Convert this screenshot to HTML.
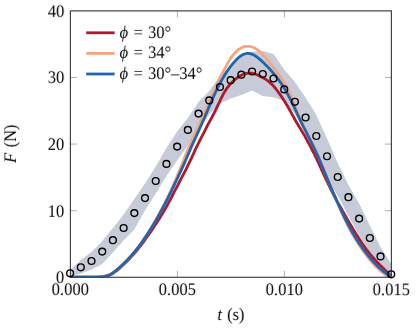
<!DOCTYPE html>
<html><head><meta charset="utf-8"><title>plot</title>
<style>html,body{margin:0;padding:0;background:#fff;}svg{display:block;}
body{font-family:"Liberation Serif",serif;}</style></head>
<body>
<svg width="416" height="328" viewBox="0 0 416 328">
<rect width="416" height="328" fill="#fff"/>
<defs><clipPath id="cp"><rect x="70.4" y="10.9" width="321.0" height="266.40000000000003"/></clipPath></defs>
<path d="M70.10,270.00 L80.80,260.00 L91.51,252.00 L102.22,241.00 L112.92,228.00 L123.62,214.50 L134.33,199.00 L145.03,183.50 L155.74,166.50 L166.44,148.00 L177.15,131.50 L187.85,118.00 L198.56,102.00 L209.26,91.00 L219.97,76.00 L230.67,66.00 L241.38,56.50 L252.09,51.50 L262.79,51.00 L273.50,54.00 L284.20,69.50 L294.90,82.00 L305.61,97.50 L316.31,115.00 L327.02,138.50 L337.73,163.00 L348.43,185.00 L359.13,203.50 L369.84,225.50 L380.54,247.00 L391.25,264.00 L391.25,275.50 L380.54,266.00 L369.84,252.00 L359.13,235.50 L348.43,216.00 L337.73,195.50 L327.02,179.00 L316.31,155.00 L305.61,132.00 L294.90,114.00 L284.20,101.00 L273.50,97.30 L262.79,96.00 L252.09,90.50 L241.38,95.00 L230.67,98.50 L219.97,103.50 L209.26,114.50 L198.56,129.00 L187.85,145.50 L177.15,160.50 L166.44,176.00 L155.74,193.50 L145.03,210.50 L134.33,229.50 L123.62,240.50 L112.92,252.50 L102.22,264.00 L91.51,269.50 L80.80,273.50 L70.10,276.50Z" fill="#c7cbd8" stroke="none" clip-path="url(#cp)"/>
<path d="M177.40,277.3 v-6.5 M177.40,10.9 v6.5 M284.40,277.3 v-6.5 M284.40,10.9 v6.5 M70.4,210.70 h6.5 M391.4,210.70 h-6.5 M70.4,144.10 h6.5 M391.4,144.10 h-6.5 M70.4,77.50 h6.5 M391.4,77.50 h-6.5" stroke="#8c8c8c" stroke-width="0.7" fill="none"/>
<g clip-path="url(#cp)">
<path d="M70.50,277.20 L100.86,277.00 L108.07,275.73 L111.06,274.45 L113.21,273.18 L115.01,271.91 L116.65,270.63 L118.20,269.36 L119.70,268.09 L121.14,266.81 L122.54,265.54 L123.91,264.27 L125.23,262.99 L126.53,261.72 L127.79,260.45 L129.02,259.17 L130.22,257.90 L131.39,256.63 L132.54,255.35 L133.67,254.08 L134.78,252.81 L135.87,251.53 L136.94,250.26 L138.00,248.99 L139.02,247.71 L140.03,246.44 L141.01,245.17 L141.98,243.89 L142.93,242.62 L143.86,241.35 L144.79,240.07 L145.70,238.80 L146.61,237.53 L147.51,236.25 L148.41,234.98 L149.30,233.71 L150.19,232.43 L151.07,231.16 L151.94,229.88 L152.81,228.61 L153.66,227.34 L154.51,226.06 L155.35,224.79 L156.19,223.52 L157.01,222.24 L157.82,220.97 L158.63,219.70 L159.43,218.42 L160.23,217.15 L161.02,215.88 L161.80,214.60 L162.57,213.33 L163.33,212.06 L164.08,210.78 L164.83,209.51 L165.56,208.24 L166.29,206.96 L167.01,205.69 L167.71,204.42 L168.40,203.14 L169.08,201.87 L169.76,200.60 L170.43,199.32 L171.09,198.05 L171.75,196.78 L172.40,195.50 L173.06,194.23 L173.72,192.96 L174.38,191.68 L175.04,190.41 L175.70,189.14 L176.37,187.86 L177.04,186.59 L177.70,185.32 L178.37,184.04 L179.04,182.77 L179.70,181.50 L180.37,180.22 L181.03,178.95 L181.69,177.68 L182.35,176.40 L183.01,175.13 L183.67,173.86 L184.33,172.58 L184.99,171.31 L185.64,170.04 L186.29,168.76 L186.93,167.49 L187.56,166.22 L188.19,164.94 L188.80,163.67 L189.42,162.40 L190.02,161.12 L190.62,159.85 L191.22,158.58 L191.81,157.30 L192.40,156.03 L192.98,154.76 L193.57,153.48 L194.15,152.21 L194.73,150.94 L195.31,149.66 L195.91,148.39 L196.51,147.12 L197.13,145.84 L197.75,144.57 L198.39,143.29 L199.03,142.02 L199.68,140.75 L200.33,139.47 L200.99,138.20 L201.64,136.93 L202.30,135.65 L202.96,134.38 L203.61,133.11 L204.26,131.83 L204.90,130.56 L205.54,129.29 L206.18,128.01 L206.83,126.74 L207.48,125.47 L208.15,124.19 L208.83,122.92 L209.52,121.65 L210.22,120.37 L210.92,119.10 L211.62,117.83 L212.31,116.55 L213.00,115.28 L213.67,114.01 L214.33,112.73 L214.97,111.46 L215.59,110.19 L216.19,108.91 L216.78,107.64 L217.38,106.37 L217.98,105.09 L218.58,103.82 L219.18,102.55 L219.77,101.27 L220.36,100.00 L221.09,98.46 L221.82,96.98 L222.56,95.56 L223.29,94.20 L224.02,92.89 L224.75,91.65 L225.49,90.47 L226.22,89.34 L226.95,88.27 L227.68,87.25 L228.42,86.29 L229.15,85.38 L229.88,84.51 L230.61,83.69 L231.35,82.91 L232.08,82.17 L232.81,81.46 L233.54,80.79 L234.28,80.14 L235.01,79.51 L235.74,78.92 L236.47,78.35 L237.21,77.80 L237.94,77.29 L238.67,76.81 L239.40,76.35 L240.14,75.92 L240.87,75.53 L241.60,75.16 L242.33,74.82 L243.06,74.51 L243.80,74.23 L244.53,73.98 L245.26,73.76 L245.99,73.56 L246.73,73.39 L247.46,73.25 L248.19,73.15 L248.92,73.07 L249.66,73.04 L250.39,73.04 L251.12,73.09 L251.85,73.18 L252.59,73.31 L253.32,73.49 L254.05,73.70 L254.78,73.93 L255.52,74.20 L256.25,74.49 L256.98,74.80 L257.71,75.12 L258.45,75.46 L259.18,75.80 L259.91,76.15 L260.64,76.51 L261.38,76.88 L262.11,77.26 L262.84,77.65 L263.57,78.06 L264.31,78.48 L265.04,78.92 L265.77,79.39 L266.50,79.87 L267.24,80.38 L267.97,80.91 L268.70,81.48 L269.43,82.07 L270.17,82.70 L270.90,83.37 L271.63,84.07 L272.36,84.81 L273.10,85.59 L273.83,86.40 L274.56,87.25 L275.29,88.14 L276.03,89.06 L276.76,90.01 L277.49,90.99 L278.22,92.00 L279.19,93.32 L280.13,94.65 L281.06,95.97 L281.95,97.29 L282.83,98.62 L283.69,99.94 L284.53,101.27 L285.35,102.59 L286.16,103.91 L286.95,105.24 L287.72,106.56 L288.49,107.88 L289.24,109.21 L289.98,110.53 L290.71,111.86 L291.44,113.18 L292.17,114.50 L292.89,115.83 L293.62,117.15 L294.34,118.47 L295.08,119.80 L295.82,121.12 L296.59,122.45 L297.37,123.77 L298.16,125.09 L298.97,126.42 L299.78,127.74 L300.59,129.06 L301.39,130.39 L302.19,131.71 L302.98,133.04 L303.76,134.36 L304.51,135.68 L305.26,137.01 L305.99,138.33 L306.70,139.65 L307.41,140.98 L308.12,142.30 L308.82,143.63 L309.53,144.95 L310.24,146.27 L310.94,147.60 L311.64,148.92 L312.33,150.24 L313.02,151.57 L313.70,152.89 L314.37,154.22 L315.03,155.54 L315.67,156.86 L316.31,158.19 L316.93,159.51 L317.54,160.83 L318.14,162.16 L318.75,163.48 L319.35,164.81 L319.95,166.13 L320.55,167.45 L321.16,168.78 L321.76,170.10 L322.37,171.42 L322.98,172.75 L323.59,174.07 L324.21,175.40 L324.82,176.72 L325.45,178.04 L326.07,179.37 L326.70,180.69 L327.33,182.01 L327.97,183.34 L328.61,184.66 L329.25,185.99 L329.90,187.31 L330.55,188.63 L331.21,189.96 L331.87,191.28 L332.54,192.60 L333.22,193.93 L333.90,195.25 L334.59,196.58 L335.29,197.90 L335.99,199.22 L336.71,200.55 L337.45,201.87 L338.20,203.19 L338.96,204.52 L339.72,205.84 L340.48,207.17 L341.22,208.49 L341.96,209.81 L342.71,211.14 L343.45,212.46 L344.20,213.78 L344.95,215.11 L345.70,216.43 L346.46,217.76 L347.22,219.08 L347.98,220.40 L348.74,221.73 L349.51,223.05 L350.29,224.37 L351.06,225.70 L351.84,227.02 L352.63,228.35 L353.42,229.67 L354.23,230.99 L355.03,232.32 L355.86,233.64 L356.69,234.96 L357.54,236.29 L358.40,237.61 L359.26,238.94 L360.13,240.26 L361.01,241.58 L361.89,242.91 L362.79,244.23 L363.70,245.55 L364.63,246.88 L365.57,248.20 L366.53,249.53 L367.52,250.85 L368.52,252.17 L369.56,253.50 L370.63,254.82 L371.73,256.14 L372.86,257.47 L374.02,258.79 L375.21,260.12 L376.43,261.44 L377.68,262.76 L378.98,264.09 L380.32,265.41 L381.69,266.73 L383.08,268.06 L384.43,269.38 L385.78,270.71 L387.16,272.03 L388.45,273.35 L389.60,274.68 L390.72,276.00 L391.50,277.20" fill="none" stroke="#b2182b" stroke-width="2.8" stroke-linejoin="round"/>
<path d="M70.50,277.20 L100.26,277.00 L107.99,275.51 L111.06,274.01 L113.35,272.52 L115.32,271.02 L117.14,269.53 L118.89,268.03 L120.57,266.54 L122.19,265.04 L123.75,263.55 L125.26,262.05 L126.72,260.56 L128.14,259.06 L129.51,257.57 L130.85,256.08 L132.15,254.58 L133.42,253.09 L134.67,251.59 L135.88,250.10 L137.07,248.60 L138.22,247.11 L139.33,245.61 L140.42,244.12 L141.48,242.62 L142.51,241.13 L143.53,239.63 L144.53,238.14 L145.53,236.65 L146.51,235.15 L147.48,233.66 L148.43,232.16 L149.37,230.67 L150.30,229.17 L151.21,227.68 L152.12,226.18 L153.01,224.69 L153.89,223.19 L154.76,221.70 L155.62,220.21 L156.47,218.71 L157.31,217.22 L158.13,215.72 L158.95,214.23 L159.75,212.73 L160.55,211.24 L161.34,209.74 L162.13,208.25 L162.91,206.75 L163.68,205.26 L164.44,203.76 L165.20,202.27 L165.94,200.78 L166.68,199.28 L167.41,197.79 L168.14,196.29 L168.86,194.80 L169.58,193.30 L170.29,191.81 L171.00,190.31 L171.71,188.82 L172.40,187.32 L173.07,185.83 L173.73,184.33 L174.38,182.84 L175.02,181.35 L175.65,179.85 L176.27,178.36 L176.89,176.86 L177.51,175.37 L178.13,173.87 L178.75,172.38 L179.37,170.88 L180.00,169.39 L180.61,167.89 L181.21,166.40 L181.80,164.90 L182.38,163.41 L182.95,161.92 L183.52,160.42 L184.09,158.93 L184.66,157.43 L185.24,155.94 L185.82,154.44 L186.41,152.95 L187.01,151.45 L187.62,149.96 L188.26,148.46 L188.90,146.97 L189.57,145.47 L190.24,143.98 L190.92,142.49 L191.61,140.99 L192.30,139.50 L193.00,138.00 L193.69,136.51 L194.38,135.01 L195.06,133.52 L195.74,132.02 L196.41,130.53 L197.07,129.03 L197.74,127.54 L198.43,126.04 L199.12,124.55 L199.82,123.06 L200.53,121.56 L201.23,120.07 L201.94,118.57 L202.64,117.08 L203.32,115.58 L204.00,114.09 L204.67,112.59 L205.31,111.10 L205.94,109.60 L206.56,108.11 L207.18,106.62 L207.81,105.12 L208.44,103.63 L209.07,102.13 L209.71,100.64 L210.35,99.14 L210.99,97.65 L211.64,96.15 L212.29,94.66 L212.95,93.16 L213.62,91.67 L214.27,90.17 L214.93,88.68 L215.60,87.19 L216.28,85.69 L216.96,84.20 L217.64,82.70 L218.32,81.21 L219.01,79.71 L219.73,78.22 L220.46,76.72 L221.23,75.23 L222.01,73.73 L222.83,72.24 L223.67,70.74 L224.54,69.25 L225.26,67.94 L225.99,66.59 L226.71,65.21 L227.43,63.84 L228.15,62.48 L228.87,61.17 L229.60,59.91 L230.32,58.74 L231.04,57.66 L231.76,56.66 L232.49,55.73 L233.21,54.87 L233.93,54.07 L234.65,53.31 L235.38,52.58 L236.10,51.89 L236.82,51.22 L237.54,50.58 L238.26,49.96 L238.99,49.38 L239.71,48.84 L240.43,48.35 L241.15,47.91 L241.88,47.53 L242.60,47.20 L243.32,46.93 L244.04,46.71 L244.77,46.54 L245.49,46.42 L246.21,46.35 L246.93,46.31 L247.65,46.30 L248.38,46.32 L249.10,46.37 L249.82,46.46 L250.54,46.59 L251.27,46.75 L251.99,46.97 L252.71,47.22 L253.43,47.52 L254.16,47.86 L254.88,48.24 L255.60,48.65 L256.32,49.10 L257.04,49.58 L257.77,50.09 L258.49,50.63 L259.21,51.21 L259.93,51.81 L260.66,52.44 L261.38,53.10 L262.10,53.80 L262.82,54.52 L263.55,55.28 L264.27,56.07 L264.99,56.88 L265.71,57.72 L266.43,58.59 L267.16,59.46 L267.88,60.35 L268.60,61.25 L269.32,62.15 L270.05,63.06 L270.77,63.96 L271.49,64.86 L272.21,65.76 L272.93,66.68 L273.66,67.60 L274.38,68.55 L275.10,69.51 L275.82,70.50 L276.55,71.52 L277.27,72.57 L277.99,73.64 L278.71,74.71 L279.44,75.80 L280.16,76.88 L280.88,77.95 L281.60,79.00 L282.64,80.42 L283.63,81.84 L284.57,83.26 L285.47,84.69 L286.33,86.11 L287.15,87.53 L287.94,88.95 L288.69,90.37 L289.40,91.79 L290.08,93.22 L290.68,94.64 L291.21,96.06 L291.71,97.48 L292.21,98.90 L292.73,100.32 L293.31,101.75 L293.88,103.17 L294.45,104.59 L295.01,106.01 L295.58,107.43 L296.15,108.85 L296.73,110.27 L297.31,111.70 L297.91,113.12 L298.51,114.54 L299.12,115.96 L299.74,117.38 L300.36,118.80 L300.99,120.23 L301.63,121.65 L302.29,123.07 L302.97,124.49 L303.66,125.91 L304.35,127.33 L305.06,128.76 L305.77,130.18 L306.48,131.60 L307.20,133.02 L307.91,134.44 L308.61,135.86 L309.31,137.28 L310.00,138.71 L310.67,140.13 L311.35,141.55 L312.02,142.97 L312.71,144.39 L313.39,145.81 L314.07,147.24 L314.75,148.66 L315.43,150.08 L316.10,151.50 L316.76,152.92 L317.41,154.34 L318.05,155.77 L318.67,157.19 L319.28,158.61 L319.87,160.03 L320.45,161.45 L321.02,162.87 L321.60,164.29 L322.18,165.72 L322.75,167.14 L323.33,168.56 L323.91,169.98 L324.48,171.40 L325.06,172.82 L325.64,174.25 L326.22,175.67 L326.80,177.09 L327.39,178.51 L327.97,179.93 L328.56,181.35 L329.14,182.78 L329.73,184.20 L330.33,185.62 L330.92,187.04 L331.51,188.46 L332.11,189.88 L332.71,191.31 L333.31,192.73 L333.91,194.15 L334.52,195.57 L335.12,196.99 L335.73,198.41 L336.34,199.83 L336.94,201.26 L337.52,202.68 L338.09,204.10 L338.65,205.52 L339.22,206.94 L339.79,208.36 L340.39,209.79 L341.00,211.21 L341.61,212.63 L342.24,214.05 L342.88,215.47 L343.52,216.89 L344.18,218.32 L344.85,219.74 L345.53,221.16 L346.22,222.58 L346.92,224.00 L347.64,225.42 L348.37,226.84 L349.12,228.27 L349.88,229.69 L350.65,231.11 L351.44,232.53 L352.25,233.95 L353.07,235.37 L353.91,236.80 L354.76,238.22 L355.64,239.64 L356.53,241.06 L357.43,242.48 L358.35,243.90 L359.28,245.33 L360.22,246.75 L361.19,248.17 L362.16,249.59 L363.16,251.01 L364.18,252.43 L365.22,253.85 L366.28,255.28 L367.37,256.70 L368.48,258.12 L369.63,259.54 L370.82,260.96 L372.04,262.38 L373.32,263.81 L374.64,265.23 L376.02,266.65 L377.46,268.07 L378.96,269.49 L380.53,270.91 L382.19,272.34 L383.95,273.76 L385.82,275.18 L387.80,276.60 L391.50,277.20" fill="none" stroke="#f4a582" stroke-width="2.8" stroke-linejoin="round"/>
<path d="M70.50,277.20 L98.00,277.20 L99.09,277.10 L100.19,277.01 L101.31,276.90 L102.42,276.78 L103.54,276.62 L104.64,276.44 L105.73,276.20 L106.80,275.92 L107.83,275.57 L108.84,275.16 L109.82,274.70 L110.78,274.18 L111.71,273.63 L112.62,273.03 L113.51,272.40 L114.39,271.75 L115.26,271.07 L116.12,270.38 L116.96,269.68 L117.80,268.97 L118.64,268.25 L119.47,267.53 L120.28,266.80 L121.10,266.06 L121.90,265.31 L122.70,264.56 L123.50,263.80 L124.29,263.03 L125.07,262.26 L125.84,261.48 L126.61,260.69 L127.37,259.90 L128.13,259.10 L128.88,258.29 L129.63,257.48 L130.37,256.66 L131.10,255.84 L131.83,255.02 L132.55,254.18 L133.27,253.35 L133.99,252.51 L134.70,251.66 L135.40,250.81 L136.10,249.95 L136.79,249.09 L137.47,248.23 L138.15,247.36 L138.81,246.49 L139.47,245.62 L140.12,244.74 L140.76,243.86 L141.40,242.97 L142.03,242.09 L142.65,241.20 L143.27,240.30 L143.89,239.41 L144.50,238.51 L145.11,237.61 L145.72,236.71 L146.32,235.80 L146.93,234.90 L147.52,233.99 L148.12,233.08 L148.71,232.17 L149.29,231.26 L149.87,230.34 L150.45,229.43 L151.02,228.51 L151.59,227.59 L152.16,226.67 L152.72,225.74 L153.28,224.82 L153.84,223.89 L154.39,222.97 L154.95,222.04 L155.49,221.11 L156.04,220.17 L156.58,219.24 L157.11,218.30 L157.65,217.37 L158.18,216.43 L158.70,215.49 L159.23,214.55 L159.75,213.60 L160.27,212.66 L160.78,211.71 L161.29,210.77 L161.81,209.82 L162.31,208.87 L162.82,207.92 L163.33,206.96 L163.83,206.01 L164.33,205.05 L164.83,204.09 L165.32,203.14 L165.81,202.18 L166.30,201.21 L166.79,200.25 L167.27,199.29 L167.75,198.32 L168.23,197.36 L168.71,196.39 L169.19,195.42 L169.67,194.45 L170.15,193.48 L170.62,192.51 L171.10,191.53 L171.58,190.56 L172.06,189.58 L172.53,188.60 L173.01,187.62 L173.48,186.64 L173.95,185.66 L174.42,184.68 L174.88,183.70 L175.35,182.71 L175.81,181.73 L176.27,180.74 L176.73,179.76 L177.19,178.77 L177.65,177.78 L178.11,176.79 L178.57,175.80 L179.02,174.80 L179.48,173.81 L179.94,172.82 L180.40,171.82 L180.86,170.82 L181.32,169.83 L181.78,168.83 L182.24,167.83 L182.69,166.83 L183.15,165.83 L183.60,164.83 L184.05,163.82 L184.50,162.82 L184.94,161.81 L185.38,160.81 L185.82,159.80 L186.26,158.80 L186.70,157.79 L187.14,156.78 L187.57,155.77 L188.00,154.76 L188.43,153.75 L188.86,152.74 L189.29,151.73 L189.71,150.71 L190.13,149.70 L190.56,148.69 L191.00,147.67 L191.44,146.65 L191.89,145.64 L192.35,144.62 L192.81,143.60 L193.27,142.59 L193.74,141.57 L194.21,140.55 L194.69,139.53 L195.16,138.51 L195.64,137.49 L196.11,136.46 L196.58,135.44 L197.05,134.42 L197.52,133.40 L197.98,132.37 L198.44,131.35 L198.90,130.32 L199.35,129.30 L199.80,128.27 L200.25,127.25 L200.71,126.22 L201.16,125.19 L201.62,124.17 L202.08,123.14 L202.53,122.11 L202.99,121.08 L203.44,120.06 L203.89,119.03 L204.35,118.00 L204.80,116.97 L205.24,115.95 L205.69,114.92 L206.13,113.89 L206.57,112.87 L207.00,111.84 L207.43,110.81 L207.86,109.79 L208.29,108.76 L208.72,107.74 L209.15,106.72 L209.59,105.69 L210.02,104.67 L210.46,103.65 L210.90,102.63 L211.35,101.61 L211.80,100.60 L212.24,99.58 L212.70,98.57 L213.15,97.55 L213.61,96.54 L214.06,95.53 L214.53,94.52 L214.99,93.51 L215.46,92.50 L215.93,91.50 L216.40,90.49 L216.87,89.49 L217.35,88.49 L217.84,87.49 L218.33,86.50 L218.84,85.50 L219.35,84.51 L219.86,83.52 L220.39,82.53 L220.92,81.55 L221.46,80.56 L222.01,79.58 L222.57,78.60 L223.14,77.63 L223.72,76.66 L224.30,75.69 L224.90,74.72 L225.51,73.76 L226.13,72.80 L226.75,71.85 L227.39,70.90 L228.04,69.96 L228.70,69.03 L229.37,68.10 L230.05,67.18 L230.75,66.26 L231.45,65.36 L232.17,64.46 L232.90,63.57 L233.65,62.69 L234.40,61.82 L235.17,60.96 L235.95,60.13 L236.75,59.32 L237.55,58.55 L238.37,57.81 L239.20,57.10 L240.05,56.45 L240.90,55.84 L241.77,55.29 L242.65,54.81 L243.54,54.38 L244.45,54.03 L245.36,53.75 L246.29,53.55 L247.23,53.44 L248.17,53.42 L249.11,53.49 L250.05,53.64 L250.98,53.88 L251.92,54.20 L252.85,54.58 L253.78,55.04 L254.71,55.55 L255.63,56.11 L256.54,56.73 L257.45,57.39 L258.36,58.08 L259.25,58.81 L260.14,59.57 L261.02,60.34 L261.89,61.14 L262.75,61.94 L263.60,62.75 L264.43,63.56 L265.26,64.38 L266.08,65.20 L266.89,66.02 L267.68,66.85 L268.47,67.68 L269.25,68.52 L270.01,69.35 L270.77,70.19 L271.52,71.04 L272.26,71.89 L272.99,72.74 L273.71,73.59 L274.42,74.45 L275.12,75.32 L275.82,76.18 L276.50,77.05 L277.18,77.92 L277.85,78.80 L278.51,79.68 L279.16,80.56 L279.80,81.44 L280.43,82.33 L281.04,83.22 L281.64,84.11 L282.23,85.01 L282.81,85.91 L283.37,86.82 L283.93,87.72 L284.48,88.63 L285.02,89.54 L285.55,90.46 L286.07,91.38 L286.59,92.30 L287.10,93.22 L287.61,94.15 L288.11,95.08 L288.60,96.01 L289.10,96.95 L289.59,97.88 L290.08,98.82 L290.57,99.77 L291.06,100.71 L291.54,101.66 L292.01,102.61 L292.48,103.57 L292.95,104.52 L293.41,105.48 L293.87,106.44 L294.32,107.40 L294.77,108.37 L295.22,109.34 L295.67,110.31 L296.11,111.28 L296.56,112.26 L297.00,113.24 L297.45,114.22 L297.89,115.20 L298.34,116.18 L298.79,117.17 L299.24,118.16 L299.70,119.15 L300.16,120.14 L300.62,121.14 L301.10,122.14 L301.58,123.14 L302.07,124.14 L302.57,125.14 L303.08,126.15 L303.59,127.15 L304.11,128.16 L304.62,129.17 L305.15,130.18 L305.67,131.20 L306.19,132.21 L306.72,133.23 L307.24,134.25 L307.76,135.27 L308.28,136.29 L308.79,137.31 L309.30,138.33 L309.80,139.36 L310.30,140.38 L310.80,141.41 L311.30,142.44 L311.80,143.47 L312.31,144.50 L312.82,145.53 L313.32,146.56 L313.83,147.59 L314.34,148.62 L314.84,149.66 L315.34,150.69 L315.84,151.73 L316.33,152.76 L316.82,153.80 L317.30,154.84 L317.77,155.87 L318.23,156.91 L318.69,157.95 L319.13,158.99 L319.57,160.03 L320.00,161.07 L320.42,162.11 L320.85,163.14 L321.28,164.18 L321.71,165.22 L322.13,166.26 L322.56,167.30 L322.98,168.34 L323.41,169.38 L323.84,170.42 L324.26,171.45 L324.69,172.49 L325.12,173.53 L325.54,174.57 L325.97,175.60 L326.40,176.64 L326.83,177.68 L327.26,178.71 L327.69,179.74 L328.12,180.78 L328.56,181.81 L328.99,182.84 L329.42,183.87 L329.86,184.90 L330.30,185.93 L330.73,186.96 L331.17,187.99 L331.61,189.02 L332.05,190.04 L332.49,191.06 L332.93,192.09 L333.37,193.11 L333.82,194.13 L334.26,195.15 L334.71,196.16 L335.16,197.18 L335.61,198.19 L336.06,199.21 L336.51,200.22 L336.96,201.23 L337.42,202.23 L337.87,203.24 L338.32,204.24 L338.78,205.25 L339.24,206.25 L339.70,207.24 L340.16,208.24 L340.62,209.23 L341.08,210.23 L341.55,211.22 L342.02,212.20 L342.49,213.19 L342.96,214.17 L343.44,215.15 L343.92,216.13 L344.40,217.11 L344.88,218.08 L345.37,219.05 L345.86,220.02 L346.35,220.99 L346.84,221.95 L347.34,222.91 L347.84,223.87 L348.33,224.82 L348.84,225.78 L349.34,226.73 L349.85,227.67 L350.36,228.61 L350.87,229.55 L351.39,230.49 L351.91,231.43 L352.44,232.36 L352.97,233.28 L353.51,234.21 L354.05,235.13 L354.60,236.05 L355.16,236.96 L355.72,237.87 L356.28,238.78 L356.86,239.68 L357.43,240.58 L358.02,241.47 L358.60,242.37 L359.19,243.26 L359.79,244.14 L360.39,245.02 L360.99,245.90 L361.60,246.77 L362.21,247.64 L362.82,248.50 L363.44,249.36 L364.06,250.22 L364.69,251.07 L365.32,251.92 L365.96,252.76 L366.60,253.60 L367.25,254.44 L367.90,255.27 L368.56,256.10 L369.23,256.92 L369.90,257.73 L370.58,258.55 L371.28,259.35 L371.98,260.16 L372.68,260.95 L373.40,261.75 L374.13,262.54 L374.87,263.32 L375.62,264.10 L376.38,264.87 L377.16,265.64 L377.94,266.40 L378.74,267.16 L379.55,267.91 L380.38,268.66 L381.22,269.40 L382.07,270.14 L382.94,270.87 L383.83,271.60 L384.73,272.32 L385.64,273.03 L386.58,273.74 L387.53,274.45 L388.49,275.14 L389.48,275.84 L390.48,276.52 L391.50,277.20" fill="none" stroke="#2166ac" stroke-width="2.8" stroke-linejoin="round"/>
</g>
<rect x="70.4" y="10.9" width="321.0" height="266.40000000000003" fill="none" stroke="#444" stroke-width="1.2"/>
<g fill="none" stroke="#000" stroke-width="1.4">
<circle cx="70.10" cy="273.3" r="3.4"/>
<circle cx="80.80" cy="267.3" r="3.4"/>
<circle cx="91.51" cy="261" r="3.4"/>
<circle cx="102.22" cy="251.6" r="3.4"/>
<circle cx="112.92" cy="240.2" r="3.4"/>
<circle cx="123.62" cy="228" r="3.4"/>
<circle cx="134.33" cy="213.1" r="3.4"/>
<circle cx="145.03" cy="198.1" r="3.4"/>
<circle cx="155.74" cy="181" r="3.4"/>
<circle cx="166.44" cy="163.9" r="3.4"/>
<circle cx="177.15" cy="146.6" r="3.4"/>
<circle cx="187.85" cy="129.9" r="3.4"/>
<circle cx="198.56" cy="113.6" r="3.4"/>
<circle cx="209.26" cy="100.4" r="3.4"/>
<circle cx="219.97" cy="87" r="3.4"/>
<circle cx="230.67" cy="80.2" r="3.4"/>
<circle cx="241.38" cy="74.7" r="3.4"/>
<circle cx="252.09" cy="71.5" r="3.4"/>
<circle cx="262.79" cy="74" r="3.4"/>
<circle cx="273.50" cy="78.5" r="3.4"/>
<circle cx="284.20" cy="89.4" r="3.4"/>
<circle cx="294.90" cy="101.8" r="3.4"/>
<circle cx="305.61" cy="117.5" r="3.4"/>
<circle cx="316.31" cy="136" r="3.4"/>
<circle cx="327.02" cy="156.25" r="3.4"/>
<circle cx="337.73" cy="177" r="3.4"/>
<circle cx="348.43" cy="197.2" r="3.4"/>
<circle cx="359.13" cy="218.6" r="3.4"/>
<circle cx="369.84" cy="238" r="3.4"/>
<circle cx="380.54" cy="256.4" r="3.4"/>
<circle cx="391.25" cy="274.3" r="3.4"/>
</g>
<path d="M86.2,32.80 H114.6" stroke="#b2182b" stroke-width="2.8" fill="none"/>
<path d="M86.2,53.40 H114.6" stroke="#f4a582" stroke-width="2.8" fill="none"/>
<path d="M86.2,74.00 H114.6" stroke="#2166ac" stroke-width="2.8" fill="none"/>
<g font-family="'Liberation Serif', serif" font-size="17.6" fill="#000" text-rendering="geometricPrecision" transform="rotate(0.05 208 164)" opacity="0.999">
<text transform="translate(119.50 37.80) scale(0.9375 1)" text-anchor="start" word-spacing="1.3"><tspan font-style="italic">ϕ</tspan> = 30°</text>
<text transform="translate(119.50 58.40) scale(0.9375 1)" text-anchor="start" word-spacing="1.3"><tspan font-style="italic">ϕ</tspan> = 34°</text>
<text transform="translate(119.50 79.00) scale(0.9375 1)" text-anchor="start" word-spacing="1.3"><tspan font-style="italic">ϕ</tspan> = 30°–34°</text>
<text transform="translate(70.40 295.00) scale(0.9375 1)" text-anchor="middle">0.000</text>
<text transform="translate(177.40 295.00) scale(0.9375 1)" text-anchor="middle">0.005</text>
<text transform="translate(284.40 295.00) scale(0.9375 1)" text-anchor="middle">0.010</text>
<text transform="translate(391.40 295.00) scale(0.9375 1)" text-anchor="middle">0.015</text>
<text transform="translate(64.30 283.10) scale(0.9375 1)" text-anchor="end">0</text>
<text transform="translate(64.30 216.50) scale(0.9375 1)" text-anchor="end">10</text>
<text transform="translate(64.30 149.90) scale(0.9375 1)" text-anchor="end">20</text>
<text transform="translate(64.30 83.30) scale(0.9375 1)" text-anchor="end">30</text>
<text transform="translate(64.30 16.70) scale(0.9375 1)" text-anchor="end">40</text>
<text transform="translate(231.00 319.60) scale(0.9375 1)" text-anchor="middle" word-spacing="1.2"><tspan font-style="italic">t</tspan> (s)</text>
<text transform="translate(16.20 143.80) rotate(-90) scale(0.9375 1)" text-anchor="middle" word-spacing="1.3"><tspan font-style="italic">F</tspan> (N)</text>
</g>
</svg>
</body></html>
